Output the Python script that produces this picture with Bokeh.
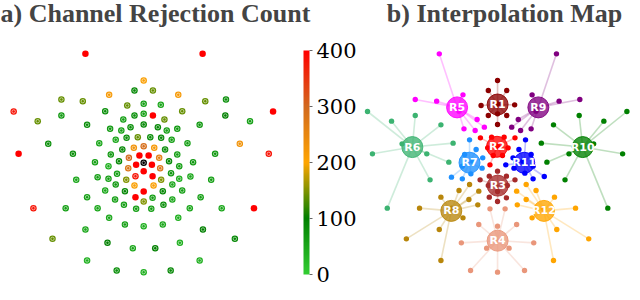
import numpy as np
from bokeh.plotting import figure
from bokeh.models import ColumnDataSource, LinearColorMapper, ColorBar, Range1d, Label, FixedTicker
from bokeh.core.properties import value
from bokeh.embed import file_html
from bokeh.resources import INLINE

# ---------------- data ----------------
# electrode positions (montage units), rejection counts and region membership
ch_x = [-177, 179, 0, -28, 28, -105, 105, -250, -185, 187, 250, -395, 393, 0, -50, 52, -117, 117,
        -250, 248, -28, 0, 28, -322, 323, -62, 63, -172, 170, 0, -40, 43, -102, 102, -68, 70,
        -290, 292, -135, 133, -85, -52, -18, 20, 53, 85, -380, 380, -215, 217, -100, -65, -30, 0,
        32, 65, 102, -148, 150, -75, -45, -13, 15, 47, 77, 0, -107, -23, 25, 108, -205, 205,
        -140, -81, -47, 50, 83, 142, 0, -25, 27, -107, -85, -53, 53, 87, 108, -117, -57, -28,
        30, 58, 117, -172, 173, 0, -25, 27, -87, -60, 0, -23, 23, 60, 87, -335, -237, -140,
        140, 237, 335, -105, 105, -57, 0, 58, -177, 180, -277, 277, -110, 110, -33, 35, -172,
        170, -82, 0, 82]
ch_y = [327, 327, 247, 217, 217, 204, 204, 190, 185, 185, 190, 154, 154, 177, 172, 174, 155, 155,
        142, 142, 142, 147, 142, 125, 125, 130, 130, 114, 114, 115, 107, 107, 102, 102, 97, 97,
        57, 57, 59, 59, 69, 75, 77, 77, 75, 69, 27, 27, 27, 27, 25, 40, 45, 50,
        45, 40, 25, 2, 2, 5, 15, 22, 22, 15, 5, 0, -10, -6, -6, -10, -51, -51,
        -43, -33, -16, -16, -31, -41, -25, -40, -40, -48, -65, -51, -51, -65, -48, -83, -85, -68,
        -68, -85, -83, -103, -103, -86, -103, -105, -110, -126, -116, -138, -138, -126, -110, -136, -136, -136,
        -136, -136, -136, -165, -165, -185, -190, -185, -200, -200, -228, -228, -240, -240, -256, -256, -293,
        -293, -323, -328, -323]
rejections = [400, 400, 210, 90, 140, 220, 220, 140, 140, 140, 80, 380, 400, 60, 140, 50, 80, 140,
              70, 100, 80, 60, 400, 140, 60, 60, 140, 80, 70, 90, 80, 90, 70, 70, 60, 60,
              80, 230, 50, 60, 50, 80, 140, 80, 90, 60, 400, 380, 80, 70, 70, 90, 230, 290,
              220, 80, 60, 60, 70, 90, 300, 400, 400, 260, 90, np.nan, 40, 400, 400, 60, 50, 60,
              60, 60, 280, 280, 70, 50, 400, 380, 400, 60, 70, 150, 150, 50, 40, 50, 90, 210,
              210, 90, 60, 60, 60, 400, 400, 60, 60, 60, 150, 60, 60, 80, 50, 380, 60, 50,
              50, 50, 400, 50, 40, 60, 40, 50, 50, 100, 140, 90, 100, 40, 50, 100, 40,
              40, 80, 40, 90]
ch_region = ["R5", "R9", "R1", "R1", "R1", "R5", "R9", "R5", "R5", "R9", "R9", "R6", "R10", "R1", "R1", "R1", "R5", "R9",
             "R6", "R10", "R1", "R1", "R1", "R6", "R10", "R5", "R9", "R6", "R10", "R1", "R5", "R9", "R5", "R9", "R5", "R9",
             "R6", "R10", "R6", "R10", "R7", "R2", "R2", "R2", "R2", "R11", "R6", "R10", "R6", "R10", "R7", "R7", "R2", "R2",
             "R2", "R11", "R11", "R6", "R10", "R7", "R7", "R2", "R2", "R11", "R11", "", "R7", "R2", "R11", "R11", "R6", "R10",
             "R7", "R7", "R7", "R11", "R11", "R11", "R3", "R3", "R3", "R7", "R8", "R3", "R3", "R12", "R11", "R8", "R8", "R3",
             "R3", "R12", "R12", "R8", "R12", "R3", "R3", "R3", "R8", "R8", "R3", "R4", "R4", "R12", "R12", "R6", "R8", "R8",
             "R12", "R12", "R10", "R8", "R12", "R4", "R4", "R4", "R8", "R12", "R8", "R12", "R4", "R4", "R4", "R4", "R8",
             "R12", "R4", "R4", "R4"]
regions = ["R1", "R2", "R3", "R4", "R5", "R6", "R7", "R8", "R9", "R10", "R11", "R12"]
cbar_ticks = [0, 100, 200, 300, 400]

# ---------------- styles ----------------
region_colors = ["#8b0000", "#ff0000", "#a52a2a", "#e9967a", "#ff00ff", "#3cb371",
                 "#1e90ff", "#b8860b", "#800080", "#008000", "#0000ff", "#ffa500"]
stops = [(0, (50, 205, 50)), (100, (0, 128, 0)), (200, (255, 165, 0)), (300, (210, 105, 30)), (400, (255, 0, 0))]
sv = np.array([s[0] for s in stops], float)
sc = np.array([s[1] for s in stops], float)
palette = []
for v in np.linspace(0, 400, 256):
    rgb = [int(round(np.interp(v, sv, sc[:, k]))) for k in range(3)]
    palette.append("#%02x%02x%02x" % tuple(rgb))
mapper = LinearColorMapper(palette=palette, low=0, high=400, nan_color="black")

W, H = 632, 292
RX = 1075  # horizontal offset of the right panel (montage units)

p = figure(width=W, height=H, x_range=Range1d(-435, 1485), y_range=Range1d(-389, 487),
           x_axis_type=None, y_axis_type=None, toolbar_location=None, output_backend="svg",
           min_border=0, outline_line_color=None)
p.grid.visible = False

x = np.array(ch_x, float)
y = np.array(ch_y, float)
cnt = np.array(rejections, float)

# ---- left panel ----
src_l = ColumnDataSource(dict(x=x, y=y, c=cnt))
p.scatter("x", "y", source=src_l, size=6.5, fill_color={"field": "c", "transform": mapper}, line_color=None)
ring = ~(cnt >= 400)
src_r = ColumnDataSource(dict(x=x[ring], y=y[ring]))
p.scatter("x", "y", source=src_r, size=3.4, fill_color=None, line_color="white", line_alpha=0.6, line_width=0.9)

cb = ColorBar(color_mapper=mapper, ticker=FixedTicker(ticks=cbar_ticks), location=(303, 18),
              width=6, height=224, padding=0, margin=0, orientation="vertical",
              major_label_text_font="DejaVu Serif", major_label_text_font_size="21px",
              major_label_text_color="black",
              major_tick_in=0, major_tick_out=3, major_tick_line_color="#666666",
              minor_tick_line_color=None, label_standoff=4,
              background_fill_alpha=0, border_line_color=None, bar_line_color=None)
p.add_layout(cb)

# ---- right panel ----
reg = np.array(ch_region)
cmap = dict(zip(regions, region_colors))
hx, hy = [], []
for r in regions:
    m = reg == r
    hx.append(x[m].mean() + RX)
    hy.append(y[m].mean())
hub = {r: (a, b) for r, a, b in zip(regions, hx, hy)}
mem = reg != ""
mx = x[mem] + RX
my = y[mem]
mr = reg[mem]
mcol = [cmap[r] for r in mr]
src_m = ColumnDataSource(dict(x0=mx, y0=my, x1=[hub[r][0] for r in mr], y1=[hub[r][1] for r in mr], c=mcol))
p.segment("x0", "y0", "x1", "y1", source=src_m, line_color="c", line_alpha=0.25, line_width=1.6)
p.scatter("x0", "y0", source=src_m, size=5.4, fill_color="c", line_color=None)
src_h = ColumnDataSource(dict(x=hx, y=hy, c=region_colors, t=regions))
p.scatter("x", "y", source=src_h, size=21, fill_color="c", fill_alpha=0.78, line_color="c", line_alpha=0.9, line_width=1)
p.text("x", "y", text="t", source=src_h, text_color="white", text_font=value("DejaVu Sans"),
       text_font_style="bold", text_font_size="11px", text_align="center", text_baseline="middle")

# ---- titles ----
p.add_layout(Label(x=0, y=H - 12.5, x_units="screen", y_units="screen", text="a) Channel Rejection Count",
                   text_font="Liberation Serif", text_font_style="bold", text_font_size="26px",
                   text_baseline="alphabetic", text_align="left"))
p.add_layout(Label(x=504, y=H - 12.5, x_units="screen", y_units="screen", text="b) Interpolation Map",
                   text_font="Liberation Serif", text_font_style="bold", text_font_size="26px",
                   text_baseline="alphabetic", text_align="center"))

open("out.html", "w").write(file_html(p, INLINE))
